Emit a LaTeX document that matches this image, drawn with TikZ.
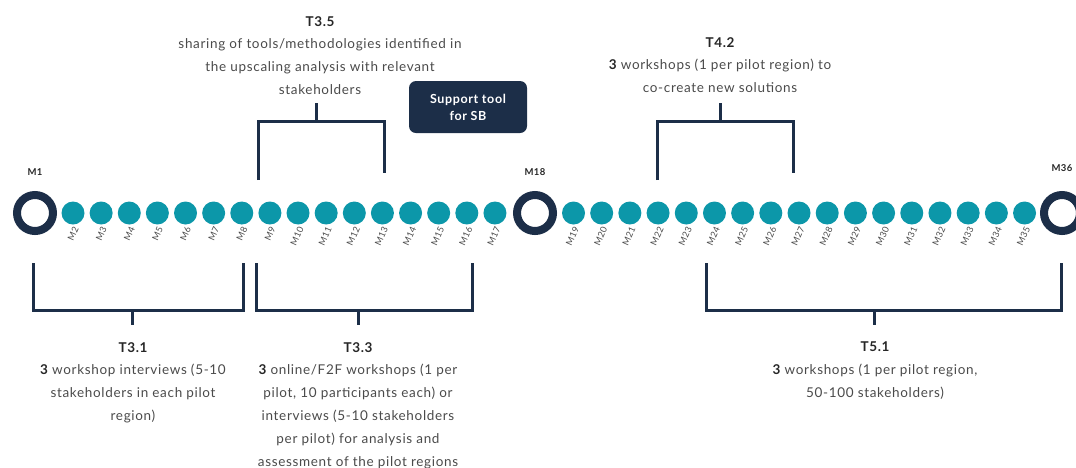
\documentclass[tikz,border=0pt]{standalone}
\usepackage{fontspec}
\setmainfont{Lato}[LetterSpace=5]
\usetikzlibrary{positioning}
\definecolor{navy}{HTML}{1C2E48}
\definecolor{tealdot}{HTML}{0C97A9}
\definecolor{ink}{HTML}{4A4A4A}
\begin{document}
\begin{tikzpicture}[x=1pt, y=-1pt,
      ring/.style={circle, draw=navy, line width=8pt, fill=white,
        minimum size=36pt, inner sep=0pt},
      dot/.style={circle, fill=tealdot, minimum size=23pt, inner sep=0pt},
      mlab/.style={rotate=66, anchor=east, inner sep=0pt, text=ink,
        font=\fontsize{9}{10}\selectfont},
      mile/.style={font=\bfseries\fontsize{9.5}{10}\selectfont, text=black!85},
      brk/.style={draw=navy, line width=3pt},
      task/.style={align=center, text=ink, inner sep=0pt, anchor=north,
        font=\fontsize{13.5}{22.8}\selectfont},
      tool/.style={fill=navy, rounded corners=7pt, text=white, align=center,
        font=\bfseries\fontsize{12.5}{17}\selectfont,
        minimum width=118pt, minimum height=52pt}]
    \useasboundingbox (0,0) rectangle (1076,467);
    % milestones
    \node[ring] (m1) at (35,213) {};
    \node[ring] (m18) at (535,213) {};
    \node[ring] (m36) at (1062,213) {};
    \node[mile] (l1) at (35,172) {M1};
    \node[mile] (l18) at (535,172) {M18};
    \node[mile] (l36) at (1062,168) {M36};
    % months
    \foreach \i in {2,...,17} {
      \pgfmathsetmacro{\px}{73+(\i-2)*28.13}
      \node[dot] (m\i) at (\px,213) {};
      \node[mlab] at (\px+3,227) {M\i};
    }
    \foreach \i in {19,...,35} {
      \pgfmathsetmacro{\px}{573.5+(\i-19)*28.19}
      \node[dot] (m\i) at (\px,213) {};
      \node[mlab] at (\px+3,227) {M\i};
    }
    % tasks above
    \node[task] (t35) at (320,16) {\textbf{\color{black!85}T3.5}\\
      sharing of tools/methodologies identified in\\
      the upscaling analysis with relevant\\
      stakeholders};
    \node[task] (t42) at (720,37) {\textbf{\color{black!85}T4.2}\\
      \textbf{\color{black!85}3} workshops (1 per pilot region) to\\
      co-create new solutions};
    \node[tool] (sb) at (468,107) {Support tool\\for SB};
    \draw[brk] (258,180) |- (384,121) -- (384,173);
    \draw[brk] (316,121) -- (316,103);
    \draw[brk] (657,180) |- (793,121) -- (793,173);
    \draw[brk] (720,121) -- (720,103);
    % tasks below
    \draw[brk] (33,263) |- (243,310) -- (243,263);
    \draw[brk] (132,310) -- (132,325);
    \draw[brk] (256,263) |- (472,310) -- (472,263);
    \draw[brk] (358,310) -- (358,325);
    \draw[brk] (706,263) |- (1061,310) -- (1061,263);
    \draw[brk] (874,310) -- (874,325);
    \node[task] (t31) at (133,342) {\textbf{\color{black!85}T3.1}\\
      \textbf{\color{black!85}3} workshop interviews (5-10\\
      stakeholders in each pilot\\
      region)};
    \node[task] (t33) at (358,342) {\textbf{\color{black!85}T3.3}\\
      \textbf{\color{black!85}3} online/F2F workshops (1 per\\
      pilot, 10 participants each) or\\
      interviews (5-10 stakeholders\\
      per pilot) for analysis and\\
      assessment of the pilot regions};
    \node[task] (t51) at (875,342) {\textbf{\color{black!85}T5.1}\\
      \textbf{\color{black!85}3} workshops (1 per pilot region,\\
      50-100 stakeholders)};
  \end{tikzpicture}
\end{document}
